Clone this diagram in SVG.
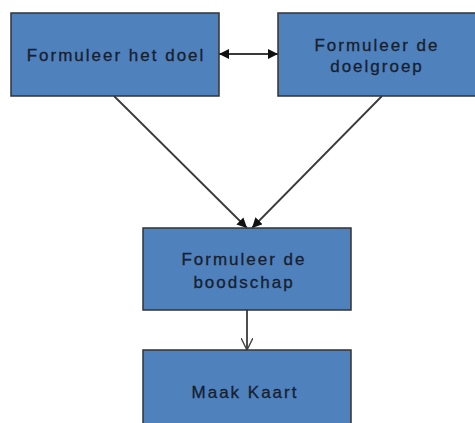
<svg xmlns="http://www.w3.org/2000/svg" width="475" height="423" viewBox="0 0 475 423">
<style>
.box{fill:#4f81bd;stroke:#333;stroke-width:1.5}
.t{font-family:"Liberation Sans",Arial,sans-serif;font-size:17px;letter-spacing:2px;fill:#17202e;text-anchor:middle;stroke:#17202e;stroke-width:0.3}
.c{stroke:#3a3a3a;stroke-width:1.8;fill:none}
</style>
<defs>
<marker id="fb" viewBox="0 0 10 10" refX="10" refY="5" markerWidth="10" markerHeight="10" orient="auto-start-reverse" markerUnits="userSpaceOnUse"><path d="M0,0 L10,5 L0,10 z" fill="#111"/></marker>
<marker id="oa" viewBox="0 0 10 10" refX="10" refY="5" markerWidth="12" markerHeight="12" orient="auto" markerUnits="userSpaceOnUse"><path d="M0,0 L10,5 L0,10" fill="none" stroke="#444" stroke-width="1.2"/></marker>
</defs>
<rect width="475" height="423" fill="#fff"/>
<g id="connectors">
<line class="c" x1="219" y1="54" x2="278" y2="54" stroke="#111" marker-start="url(#fb)" marker-end="url(#fb)"/>
<line class="c" x1="114" y1="96" x2="247" y2="228" marker-end="url(#fb)"/>
<line class="c" x1="382" y1="96" x2="252" y2="228" marker-end="url(#fb)"/>
<line class="c" x1="247" y1="310" x2="247" y2="350" marker-end="url(#oa)"/>
</g>
<g id="n1"><rect class="box" x="11" y="13" width="208" height="83"/><text class="t" x="116" y="61">Formuleer het doel</text></g>
<g id="n2"><rect class="box" x="278" y="13" width="200" height="83"/><text class="t" x="377" y="51">Formuleer de</text><text class="t" x="377" y="72">doelgroep</text></g>
<g id="n3"><rect class="box" x="143" y="228" width="208" height="82"/><text class="t" x="244" y="265">Formuleer de</text><text class="t" x="244" y="288">boodschap</text></g>
<g id="n4"><rect class="box" x="143" y="350" width="208" height="80"/><text class="t" x="245" y="398">Maak Kaart</text></g>
</svg>
